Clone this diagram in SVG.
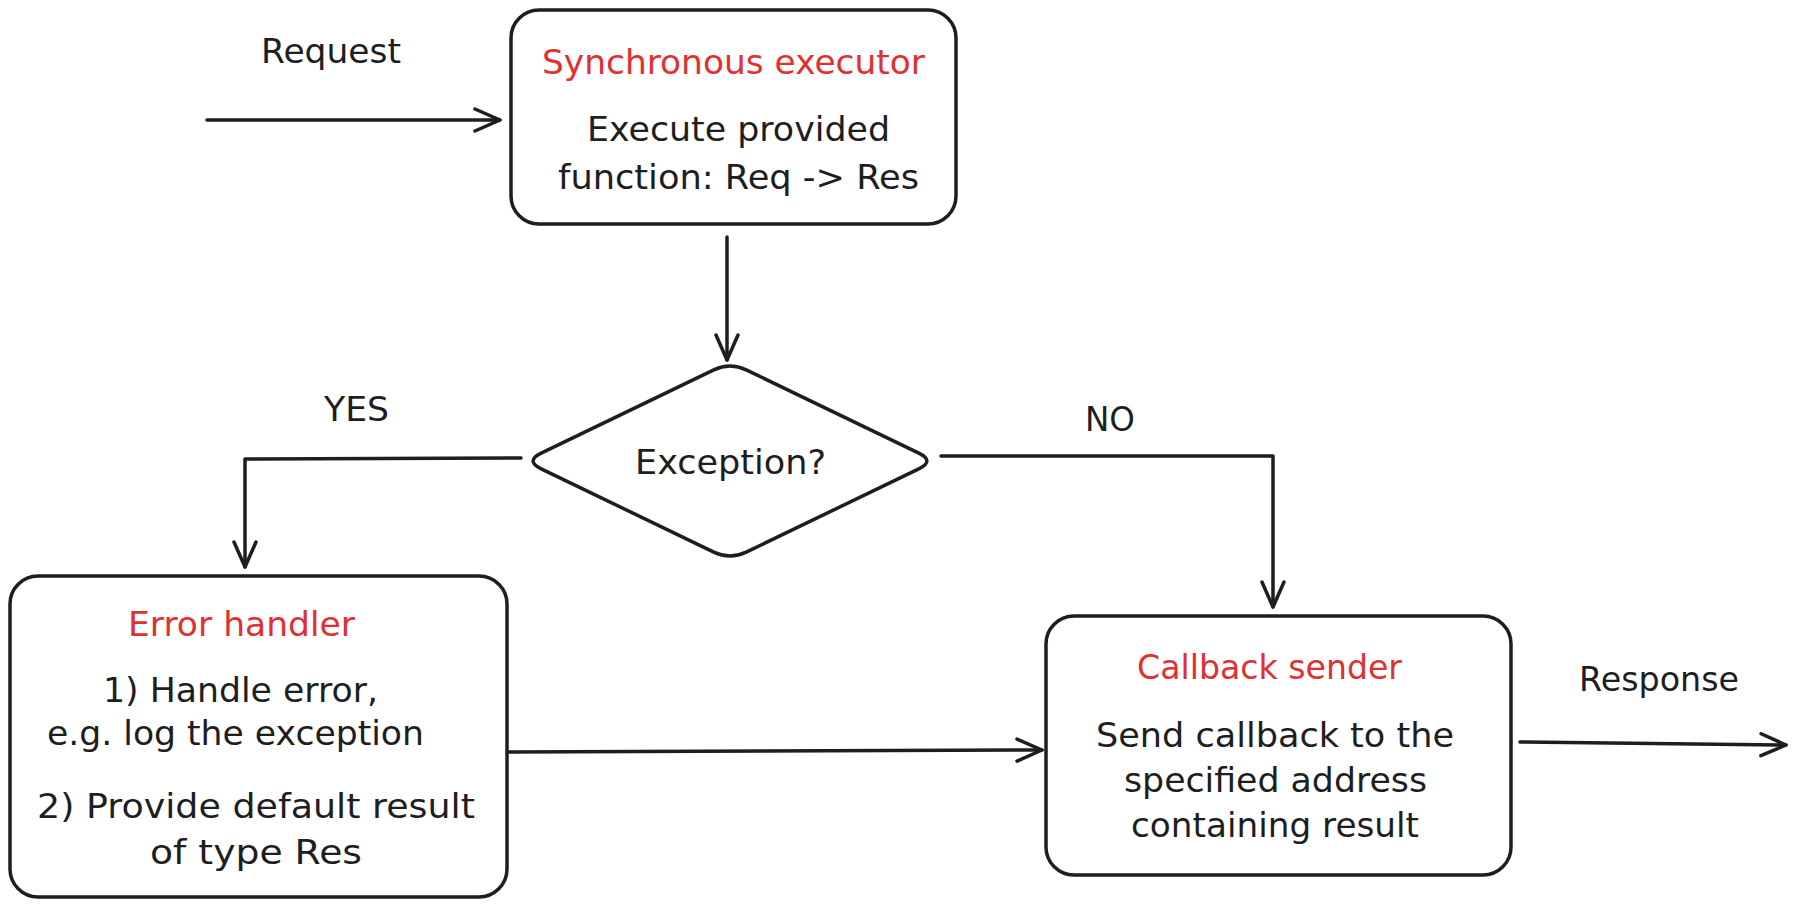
<svg xmlns="http://www.w3.org/2000/svg" width="1795" height="909" viewBox="0 0 1795 909">
<defs>
<style>
.box{fill:#ffffff;stroke:#1e1e1e;stroke-width:3.5}
.edge{fill:none;stroke:#1e1e1e;stroke-width:3.5;stroke-linecap:round;stroke-linejoin:round}
.t{font-family:"DejaVu Sans","Liberation Sans",sans-serif;font-size:33px;fill:#1e1e1e}
.r{fill:#e03131}
</style>
<marker id="arr" viewBox="0 0 30 26" markerWidth="30" markerHeight="26" refX="27" refY="13" orient="auto" markerUnits="userSpaceOnUse">
<path d="M2,2 L27,13 L2,24" fill="none" stroke="#1e1e1e" stroke-width="3.5" stroke-linecap="round" stroke-linejoin="round"/>
</marker>
</defs>
<rect width="1795" height="909" fill="#ffffff"/>
<g id="connectors">
<path class="edge" d="M207,120 L500,120" marker-end="url(#arr)"/>
<path class="edge" d="M727,237 L727,360" marker-end="url(#arr)"/>
<path class="edge" d="M521,458 L245,459 L245,567" marker-end="url(#arr)"/>
<path class="edge" d="M941,456 L1273,456 L1273,607" marker-end="url(#arr)"/>
<path class="edge" d="M509,752 L1042,750" marker-end="url(#arr)"/>
<path class="edge" d="M1520,742 L1786,745" marker-end="url(#arr)"/>
<text class="t" x="261" y="63" textLength="140" lengthAdjust="spacingAndGlyphs">Request</text>
<text class="t" x="324" y="421" textLength="65" lengthAdjust="spacingAndGlyphs">YES</text>
<text class="t" x="1085" y="431" textLength="50" lengthAdjust="spacingAndGlyphs">NO</text>
<text class="t" x="1579" y="691" textLength="160" lengthAdjust="spacingAndGlyphs">Response</text>
</g>
<g id="sync-executor">
<rect class="box" x="511" y="10" width="445" height="214" rx="28"/>
<text class="t r" x="542" y="74" textLength="383" lengthAdjust="spacingAndGlyphs">Synchronous executor</text>
<text class="t" x="587" y="141" textLength="303" lengthAdjust="spacingAndGlyphs">Execute provided</text>
<text class="t" x="558" y="189" textLength="361" lengthAdjust="spacingAndGlyphs">function: Req -&gt; Res</text>
</g>
<g id="exception-decision">
<path class="box" d="M746.2,369.8 L918.8,453.2 Q935,461 918.8,468.8 L746.2,552.2 Q730,560 713.8,552.2 L541.2,468.8 Q525,461 541.2,453.2 L713.8,369.8 Q730,362 746.2,369.8 Z"/>
<text class="t" x="635" y="474" textLength="191" lengthAdjust="spacingAndGlyphs">Exception?</text>
</g>
<g id="error-handler">
<rect class="box" x="10" y="576" width="497" height="321" rx="28"/>
<text class="t r" x="128" y="636" textLength="227" lengthAdjust="spacingAndGlyphs">Error handler</text>
<text class="t" x="103" y="702" textLength="275" lengthAdjust="spacingAndGlyphs">1) Handle error,</text>
<text class="t" x="47" y="745" textLength="377" lengthAdjust="spacingAndGlyphs">e.g. log the exception</text>
<text class="t" x="37" y="818" textLength="438" lengthAdjust="spacingAndGlyphs">2) Provide default result</text>
<text class="t" x="150" y="864" textLength="212" lengthAdjust="spacingAndGlyphs">of type Res</text>
</g>
<g id="callback-sender">
<rect class="box" x="1046" y="616" width="465" height="259" rx="28"/>
<text class="t r" x="1137" y="679" textLength="265" lengthAdjust="spacingAndGlyphs">Callback sender</text>
<text class="t" x="1096" y="747" textLength="358" lengthAdjust="spacingAndGlyphs">Send callback to the</text>
<text class="t" x="1124" y="792" textLength="303" lengthAdjust="spacingAndGlyphs">specified address</text>
<text class="t" x="1131" y="837" textLength="288" lengthAdjust="spacingAndGlyphs">containing result</text>
</g>
</svg>
